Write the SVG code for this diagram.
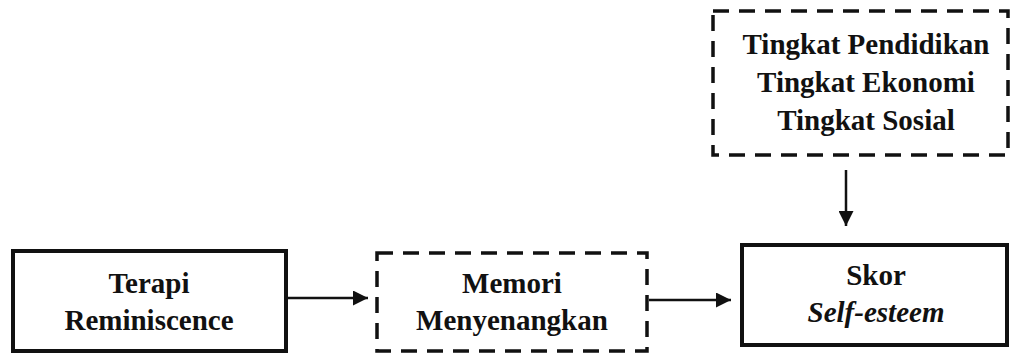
<svg xmlns="http://www.w3.org/2000/svg" width="1011" height="353" viewBox="0 0 1011 353">
<style>
.t{font-family:"Liberation Serif","Times New Roman",serif;font-weight:bold;font-size:29px;fill:#111;text-anchor:middle}
.solid{fill:#fff;stroke:#111;stroke-width:4}
.dash{fill:#fff;stroke:#111;stroke-width:3.5;stroke-dasharray:16 10}
.c{stroke:#111;stroke-width:2.5;fill:none}
</style>
<defs>
<marker id="ah" viewBox="0 0 10 10" refX="10" refY="5" markerWidth="6" markerHeight="6" markerUnits="strokeWidth" orient="auto">
<path d="M0,0 L10,5 L0,10 z" fill="#111"/>
</marker>
</defs>
<rect width="1011" height="353" fill="#fff"/>
<g id="faktor">
<rect class="dash" x="713" y="11" width="295" height="144"/>
<text class="t" x="866" y="54">Tingkat Pendidikan</text>
<text class="t" x="866" y="92">Tingkat Ekonomi</text>
<text class="t" x="866" y="130">Tingkat Sosial</text>
</g>
<g id="terapi">
<rect class="solid" x="13" y="251" width="273" height="100"/>
<text class="t" x="149" y="293">Terapi</text>
<text class="t" x="149" y="330">Reminiscence</text>
</g>
<g id="memori">
<rect class="dash" x="377" y="253" width="270" height="98"/>
<text class="t" x="512" y="293">Memori</text>
<text class="t" x="512" y="330">Menyenangkan</text>
</g>
<g id="skor">
<rect class="solid" x="742" y="245" width="265" height="100"/>
<text class="t" x="876" y="285">Skor</text>
<text class="t" x="876" y="322" font-style="italic">Self-esteem</text>
</g>
<g id="connectors">
<line class="c" x1="288" y1="298" x2="368" y2="298" marker-end="url(#ah)"/>
<line class="c" x1="649" y1="300" x2="731" y2="300" marker-end="url(#ah)"/>
<line class="c" x1="846" y1="170" x2="846" y2="226" marker-end="url(#ah)"/>
</g>
</svg>
